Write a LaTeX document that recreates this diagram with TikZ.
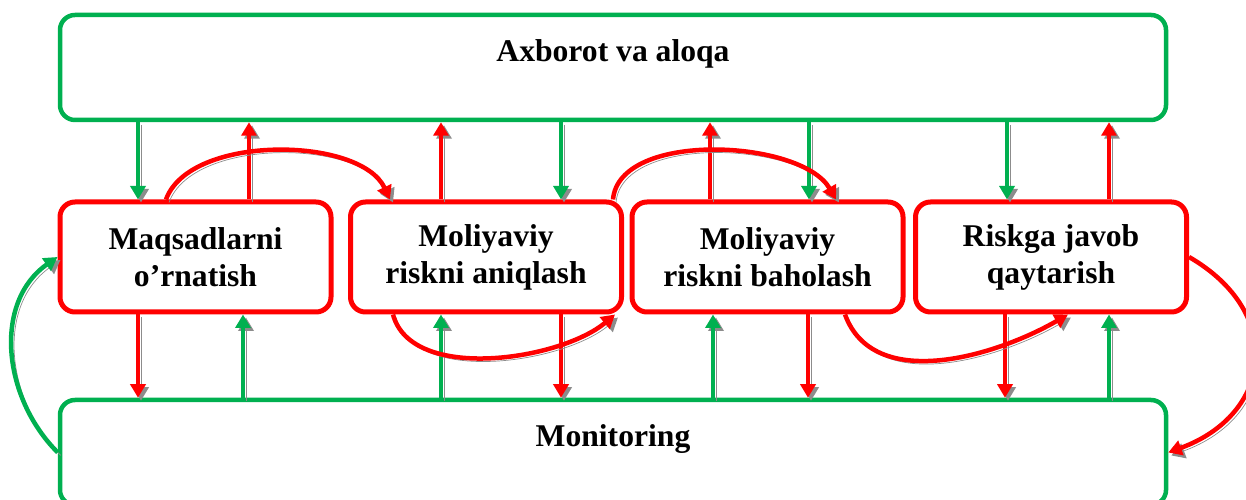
\documentclass[tikz,border=0pt]{standalone}
\usepackage{fontspec}
\setmainfont{Liberation Serif}
\usetikzlibrary{arrows.meta}
\definecolor{ogreen}{RGB}{0,176,80}

\begin{document}
\begin{tikzpicture}[
    font=\bfseries\fontsize{18}{21}\selectfont,
    widebox/.style={draw=ogreen, line width=0.09cm, rounded corners=0.3cm, minimum width=22.12cm, minimum height=2.1cm, inner sep=0pt, text height=0.43cm, text depth=0.66cm},
    stagebox/.style={draw=red, line width=0.1cm, rounded corners=0.3cm, minimum width=5.42cm, minimum height=2.2cm, inner sep=0pt, align=center},
    shade/.style={preaction={draw=black!45, transform canvas={shift={(0.06,-0.06)}}}},
    garr/.style={draw=ogreen, line width=0.09cm, -{Triangle[length=0.27cm,width=0.3cm]}, shade},
    rarr/.style={draw=red, line width=0.09cm, -{Triangle[length=0.27cm,width=0.3cm]}, shade}
]
    \useasboundingbox (0,0) rectangle (24.92,10);
    \node[widebox] (axb) at (12.26,8.65) {Axborot va aloqa};
    \node[widebox] (mon) at (12.26,0.95) {Monitoring};
    \node[stagebox] (maq) at (3.91,4.86) {Maqsadlarni\\o’rnatish};
    \node[stagebox] (ani) at (9.72,4.86) {Moliyaviy\\riskni aniqlash};
    \node[stagebox] (bah) at (15.35,4.86) {Moliyaviy\\riskni baholash};
    \node[stagebox] (jav) at (21.02,4.86) {Riskga javob\\qaytarish};
    % upper arrows
    \draw[garr] (axb.south -| 2.76,0) -- (maq.north -| 2.76,0);
    \draw[rarr] (maq.north -| 4.98,0) -- (axb.south -| 4.98,0);
    \draw[rarr] (ani.north -| 8.82,0) -- (axb.south -| 8.82,0);
    \draw[garr] (axb.south -| 11.22,0) -- (ani.north -| 11.22,0);
    \draw[rarr] (bah.north -| 14.2,0) -- (axb.south -| 14.2,0);
    \draw[garr] (axb.south -| 16.18,0) -- (bah.north -| 16.18,0);
    \draw[garr] (axb.south -| 20.14,0) -- (jav.north -| 20.14,0);
    \draw[rarr] (jav.north -| 22.18,0) -- (axb.south -| 22.18,0);
    % lower arrows
    \draw[rarr] (maq.south -| 2.76,0) -- (mon.north -| 2.76,0);
    \draw[garr] (mon.north -| 4.86,0) -- (maq.south -| 4.86,0);
    \draw[garr] (mon.north -| 8.82,0) -- (ani.south -| 8.82,0);
    \draw[rarr] (ani.south -| 11.22,0) -- (mon.north -| 11.22,0);
    \draw[garr] (mon.north -| 14.26,0) -- (bah.south -| 14.26,0);
    \draw[rarr] (bah.south -| 16.16,0) -- (mon.north -| 16.16,0);
    \draw[rarr] (jav.south -| 20.1,0) -- (mon.north -| 20.1,0);
    \draw[garr] (mon.north -| 22.18,0) -- (jav.south -| 22.18,0);
    % curved arrows
    \draw[rarr] (maq.north -| 3.32,0) to[out=70,in=115,looseness=0.8] (ani.north -| 7.8,0);
    \draw[rarr] (ani.south -| 7.86,0) to[out=-75,in=-140,looseness=0.82] (ani.south -| 12.3,0);
    \draw[rarr] (ani.north -| 12.26,0) to[out=85,in=120,looseness=0.8] (bah.north -| 16.72,0);
    \draw[rarr] (bah.south -| 16.9,0) to[out=-70,in=-150,looseness=0.96] (jav.south -| 21.36,0);
    \draw[rarr] (jav.east) to[out=-30,in=20,looseness=1.45] (mon.east);
    \draw[garr] (mon.west) to[out=135,in=-145,looseness=1.03] (maq.west);
\end{tikzpicture}
\end{document}
